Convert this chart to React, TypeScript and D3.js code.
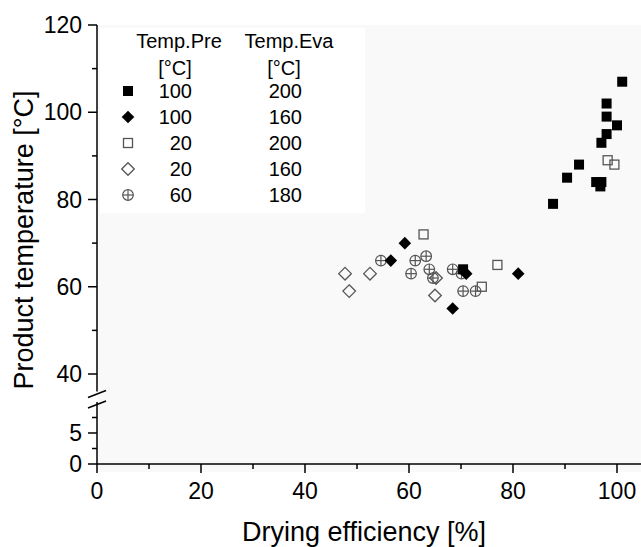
import React from "react";
import * as d3 from "d3";

const W = 641;
const H = 547;

// Series: [drying efficiency %, product temperature °C]
const s100_200: [number, number][] = [
  [101, 107], [98, 102], [98, 99], [100, 97], [98, 95], [97, 93], [92.7, 88],
  [90.4, 85], [96, 84], [97, 84], [96.8, 83], [87.7, 79], [70.4, 64],
];
const s100_160: [number, number][] = [
  [59.2, 70], [56.5, 66], [71, 63], [81, 63], [68.4, 55],
];
const s20_200: [number, number][] = [
  [98.2, 89], [99.5, 88], [62.8, 72], [77, 65], [74, 60],
];
const s20_160: [number, number][] = [
  [47.7, 63], [52.5, 63], [48.5, 59], [65.2, 62], [65, 58],
];
const s60_180: [number, number][] = [
  [54.6, 66], [61.2, 66], [63.3, 67], [60.4, 63], [63.9, 64], [64.6, 62],
  [68.4, 64], [70.1, 63], [70.4, 59], [72.8, 59],
];

const legendPre = ["100", "100", "20", "20", "60"];
const legendEva = ["200", "160", "200", "160", "180"];
const legendKinds = ["sqFill", "diaFill", "sqOpen", "diaOpen", "circ"];

const xTicksMajor = [0, 20, 40, 60, 80, 100];
const xTicksMinor = [10, 30, 50, 70, 90];
const yUpperMajor = [40, 60, 80, 100, 120];
const yUpperMinor = [50, 70, 90, 110];
const yLowerMajor = [0, 5];
const yLowerMinor = [2.5, 7.5];

const FONT = "'Liberation Sans', Arial, Helvetica, sans-serif";

const x = d3.scaleLinear().domain([0, 105]).range([97, 643]);
const yU = d3.scaleLinear().domain([40, 120]).range([374, 25]);
const yL = d3.scaleLinear().domain([0, 10]).range([464, 402]);
const UPPER_MIN = 36;

const GRAY = "#555";

function Marker({ kind, cx, cy }: { kind: string; cx: number; cy: number }) {
  if (kind === "sqFill") {
    const s = 10;
    return <rect x={cx - s / 2} y={cy - s / 2} width={s} height={s} fill="#000" />;
  }
  if (kind === "sqOpen") {
    const s = 9;
    return (
      <rect x={cx - s / 2} y={cy - s / 2} width={s} height={s} fill="none" stroke={GRAY} strokeWidth={1.3} />
    );
  }
  if (kind === "diaFill" || kind === "diaOpen") {
    const r = 6.3;
    const d = `M${cx},${cy - r}L${cx + r},${cy}L${cx},${cy + r}L${cx - r},${cy}Z`;
    return kind === "diaFill" ? (
      <path d={d} fill="#000" />
    ) : (
      <path d={d} fill="none" stroke={GRAY} strokeWidth={1.3} />
    );
  }
  const r = 5.3;
  return (
    <g stroke={GRAY} strokeWidth={1.2} fill="none">
      <circle cx={cx} cy={cy} r={r} />
      <line x1={cx - r} y1={cy} x2={cx + r} y2={cy} />
      <line x1={cx} y1={cy - r} x2={cx} y2={cy + r} />
    </g>
  );
}

export default function App() {
  const series: { kind: string; data: [number, number][] }[] = [
    { kind: "diaOpen", data: s20_160 },
    { kind: "sqOpen", data: s20_200 },
    { kind: "circ", data: s60_180 },
    { kind: "sqFill", data: s100_200 },
    { kind: "diaFill", data: s100_160 },
  ];
  const axisX0 = x(0);
  const axisY0 = yL(0);
  const upperBottom = yU(UPPER_MIN);
  const lowerTop = yL(10);

  const legendRowY = (i: number) => 98 + i * 26;

  return (
    <svg
      width={W}
      height={H}
      style={{ position: "absolute", left: 0, top: 0, background: "#fff" }}
      fontFamily={FONT}
    >
      {/* faint plot background */}
      <rect x={axisX0} y={yU(120)} width={W - axisX0} height={axisY0 - yU(120) + 8} fill="#f9f9f9" />
      <rect x={axisX0 + 3} y={28} width={265} height={185} fill="#fff" />

      {/* data */}
      {series.map((s, si) => (
        <g key={si}>
          {s.data.map((p, i) => (
            <Marker key={i} kind={s.kind} cx={x(p[0])} cy={yU(p[1])} />
          ))}
        </g>
      ))}

      {/* legend */}
      <g fontSize={20} fill="#000">
        <text x={179} y={48} textAnchor="middle">Temp.Pre</text>
        <text x={289} y={48} textAnchor="middle">Temp.Eva</text>
        <text x={175} y={75} textAnchor="middle">[°C]</text>
        <text x={284} y={75} textAnchor="middle">[°C]</text>
        {legendKinds.map((k, i) => (
          <g key={i}>
            <Marker kind={k} cx={128} cy={legendRowY(i) - 7} />
            <text x={192} y={legendRowY(i)} textAnchor="end">{legendPre[i]}</text>
            <text x={302} y={legendRowY(i)} textAnchor="end">{legendEva[i]}</text>
          </g>
        ))}
      </g>

      {/* x axis */}
      <g stroke="#000" strokeWidth={1.5}>
        <line x1={axisX0} y1={axisY0} x2={W} y2={axisY0} />
        {xTicksMajor.map((t) => (
          <line key={"xm" + t} x1={x(t)} y1={axisY0} x2={x(t)} y2={axisY0 + 9} />
        ))}
        {xTicksMinor.map((t) => (
          <line key={"xn" + t} x1={x(t)} y1={axisY0} x2={x(t)} y2={axisY0 + 5} />
        ))}
      </g>
      <g fontSize={23} textAnchor="middle" fill="#000">
        {xTicksMajor.map((t) => (
          <text key={"xl" + t} x={x(t)} y={499}>{t}</text>
        ))}
      </g>

      {/* y axis */}
      <g stroke="#000" strokeWidth={1.5}>
        <line x1={axisX0} y1={yU(120)} x2={axisX0} y2={upperBottom} />
        <line x1={axisX0} y1={lowerTop} x2={axisX0} y2={axisY0} />
        {yUpperMajor.map((t) => (
          <line key={"yum" + t} x1={axisX0 - 9} y1={yU(t)} x2={axisX0} y2={yU(t)} />
        ))}
        {yUpperMinor.map((t) => (
          <line key={"yun" + t} x1={axisX0 - 5} y1={yU(t)} x2={axisX0} y2={yU(t)} />
        ))}
        {yLowerMajor.map((t) => (
          <line key={"ylm" + t} x1={axisX0 - 9} y1={yL(t)} x2={axisX0} y2={yL(t)} />
        ))}
        {yLowerMinor.map((t) => (
          <line key={"yln" + t} x1={axisX0 - 5} y1={yL(t)} x2={axisX0} y2={yL(t)} />
        ))}
        {/* break marks */}
        <line x1={axisX0 - 9} y1={upperBottom + 6} x2={axisX0 + 9} y2={upperBottom - 1} />
        <line x1={axisX0 - 9} y1={lowerTop + 6} x2={axisX0 + 9} y2={lowerTop - 1} />
      </g>
      <g fontSize={23} textAnchor="end" fill="#000">
        {yUpperMajor.map((t) => (
          <text key={"yul" + t} x={82} y={yU(t) + 8}>{t}</text>
        ))}
        {yLowerMajor.map((t) => (
          <text key={"yll" + t} x={82} y={yL(t) + 8}>{t}</text>
        ))}
      </g>

      {/* axis titles */}
      <text x={364} y={541} fontSize={27} textAnchor="middle" fill="#000">
        Drying efficiency [%]
      </text>
      <text
        transform={`translate(33, 240) rotate(-90)`}
        fontSize={27}
        textAnchor="middle"
        fill="#000"
      >
        Product temperature [°C]
      </text>
    </svg>
  );
}
